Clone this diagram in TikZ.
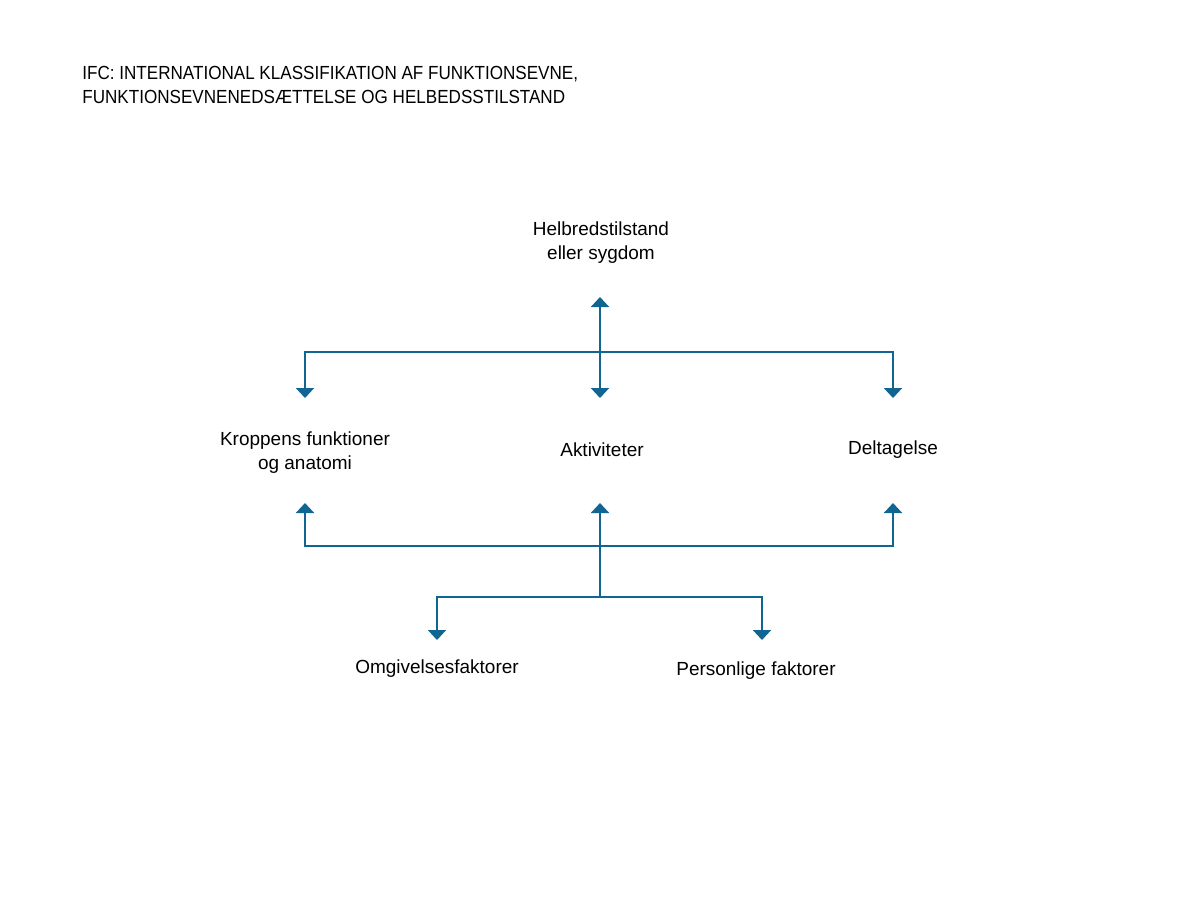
\documentclass[tikz,border=0pt]{standalone}
\usepackage{fontspec}
\setmainfont{Liberation Sans}
\newfontfamily\titlefont[FakeStretch=0.9]{Liberation Sans}
\usetikzlibrary{arrows.meta}
\definecolor{icfblue}{RGB}{16,101,146}
\tikzstyle{label} = [align=center, font=\fontsize{10.8}{13.6}\selectfont, inner sep=0pt]
\tikzstyle{heading} = [align=left, anchor=north west, font=\titlefont\fontsize{10.8}{13.6}\selectfont, inner sep=0pt]
\tikzstyle{arrow} = [draw=icfblue, line width=1.2pt, -{Triangle[width=3.6mm,length=2mm]}]

\begin{document}
\begin{tikzpicture}
\useasboundingbox (0,0) rectangle (24,-18);

\node (title) [heading] at (1.64,-1.32) {IFC: INTERNATIONAL KLASSIFIKATION AF FUNKTIONSEVNE,\\FUNKTIONSEVNENEDSÆTTELSE OG HELBEDSSTILSTAND};

\node (helbred) [label] at (12.02,-4.86) {Helbredstilstand\\eller sygdom};
\node (kroppen) [label] at (6.1,-9.06) {Kroppens funktioner\\og anatomi};
\node (aktiv) [label] at (12.04,-9.0) {Aktiviteter};
\node (deltag) [label] at (17.86,-9.0) {Deltagelse};
\node (omgiv) [label] at (8.74,-13.38) {Omgivelsesfaktorer};
\node (person) [label] at (15.12,-13.42) {Personlige faktorer};

% junctions
\coordinate (top) at (12,-7.04);
\coordinate (low) at (12,-10.92);
\coordinate (hub) at (12,-11.94);
% arrow ends
\coordinate (helbredIn) at (12,-5.94);
\coordinate (aktivIn) at (12,-7.96);
\coordinate (kroppenIn) at (6.1,-7.96);
\coordinate (deltagIn) at (17.86,-7.96);
\coordinate (aktivOut) at (12,-10.06);
\coordinate (kroppenOut) at (6.1,-10.06);
\coordinate (deltagOut) at (17.86,-10.06);
\coordinate (omgivIn) at (8.74,-12.8);
\coordinate (personIn) at (15.24,-12.8);

\draw [arrow] (top) -- (helbredIn);
\draw [arrow] (top) -- (aktivIn);
\draw [arrow] (top) -| (kroppenIn);
\draw [arrow] (top) -| (deltagIn);
\draw [arrow] (low) -| (kroppenOut);
\draw [arrow] (low) -| (deltagOut);
\draw [arrow] (hub) -- (aktivOut);
\draw [arrow] (hub) -| (omgivIn);
\draw [arrow] (hub) -| (personIn);

\end{tikzpicture}
\end{document}
